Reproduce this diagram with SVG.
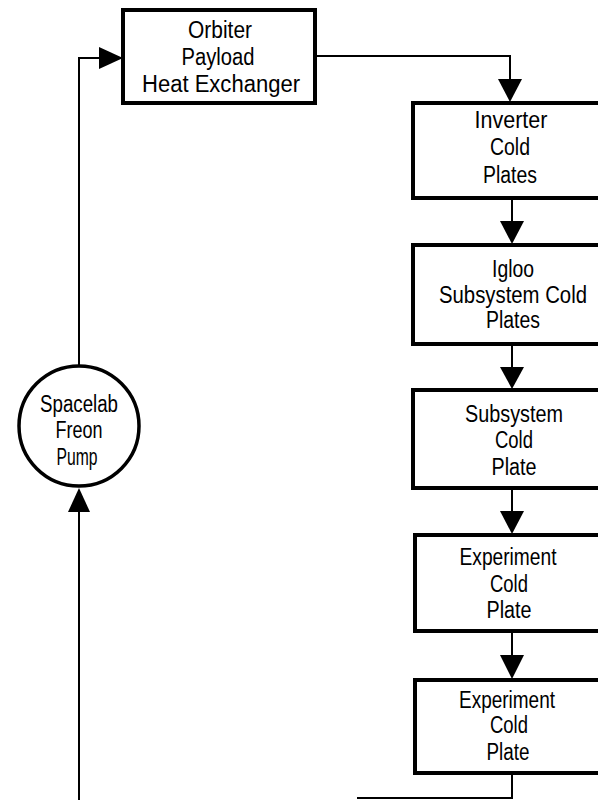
<svg xmlns="http://www.w3.org/2000/svg" width="598" height="800" viewBox="0 0 598 800">
<style>
.box{fill:#fff;stroke:#000;stroke-width:4}
.ln{fill:none;stroke:#000;stroke-width:2}
.ah{fill:#000}
text{font-family:"Liberation Sans Narrow","Liberation Sans",Arial,sans-serif;font-size:23px;fill:#000;text-anchor:middle}
</style>
<rect width="598" height="800" fill="#fff"/>
<g id="connectors">
<polyline class="ln" points="315,56 510,56 510,80"/>
<polygon class="ah" points="498,79 522,79 510,102"/>
<line class="ln" x1="512" y1="198" x2="512" y2="222"/>
<polygon class="ah" points="500,221 524,221 512,244"/>
<line class="ln" x1="512" y1="344" x2="512" y2="368"/>
<polygon class="ah" points="500,367 524,367 512,389"/>
<line class="ln" x1="512" y1="488" x2="512" y2="512"/>
<polygon class="ah" points="500,511 524,511 512,534"/>
<line class="ln" x1="512" y1="631" x2="512" y2="656"/>
<polygon class="ah" points="500,655 524,655 512,679"/>
<polyline class="ln" points="512,773 512,798 357,798"/>
<line class="ln" x1="79" y1="800" x2="79" y2="510"/>
<polygon class="ah" points="68,512 90,512 79,488"/>
<polyline class="ln" points="79,366 79,58 100,58"/>
<polygon class="ah" points="99,47 99,69 123,58"/>
</g>
<g id="orbiter">
<rect class="box" x="123" y="10" width="192" height="93"/>
<text x="220" y="38" textLength="64" lengthAdjust="spacingAndGlyphs">Orbiter</text>
<text x="218" y="65" textLength="73" lengthAdjust="spacingAndGlyphs">Payload</text>
<text x="221" y="92" textLength="158" lengthAdjust="spacingAndGlyphs">Heat Exchanger</text>
</g>
<g id="inverter">
<rect class="box" x="413" y="103" width="200" height="95"/>
<text x="511" y="128" textLength="73" lengthAdjust="spacingAndGlyphs">Inverter</text>
<text x="510" y="155" textLength="40" lengthAdjust="spacingAndGlyphs">Cold</text>
<text x="510" y="183" textLength="54" lengthAdjust="spacingAndGlyphs">Plates</text>
</g>
<g id="igloo">
<rect class="box" x="413" y="245" width="200" height="99"/>
<text x="513" y="277" textLength="42" lengthAdjust="spacingAndGlyphs">Igloo</text>
<text x="513" y="303" textLength="148" lengthAdjust="spacingAndGlyphs">Subsystem Cold</text>
<text x="513" y="328" textLength="54" lengthAdjust="spacingAndGlyphs">Plates</text>
</g>
<g id="subsystem">
<rect class="box" x="413" y="390" width="200" height="98"/>
<text x="514" y="422" textLength="98" lengthAdjust="spacingAndGlyphs">Subsystem</text>
<text x="514" y="448" textLength="38" lengthAdjust="spacingAndGlyphs">Cold</text>
<text x="514" y="475" textLength="45" lengthAdjust="spacingAndGlyphs">Plate</text>
</g>
<g id="experiment1">
<rect class="box" x="415" y="535" width="198" height="96"/>
<text x="508" y="565" textLength="97" lengthAdjust="spacingAndGlyphs">Experiment</text>
<text x="509" y="592" textLength="38" lengthAdjust="spacingAndGlyphs">Cold</text>
<text x="509" y="618" textLength="45" lengthAdjust="spacingAndGlyphs">Plate</text>
</g>
<g id="experiment2">
<rect class="box" x="415" y="680" width="198" height="93"/>
<text x="507" y="708" textLength="96" lengthAdjust="spacingAndGlyphs">Experiment</text>
<text x="509" y="733" textLength="38" lengthAdjust="spacingAndGlyphs">Cold</text>
<text x="508" y="760" textLength="43" lengthAdjust="spacingAndGlyphs">Plate</text>
</g>
<g id="pump">
<circle cx="79" cy="426" r="60" fill="#fff" stroke="#000" stroke-width="3.5"/>
<text x="79" y="412" textLength="78" lengthAdjust="spacingAndGlyphs">Spacelab</text>
<text x="79" y="438" textLength="47" lengthAdjust="spacingAndGlyphs">Freon</text>
<text x="77" y="465" textLength="41" lengthAdjust="spacingAndGlyphs">Pump</text>
</g>
</svg>
